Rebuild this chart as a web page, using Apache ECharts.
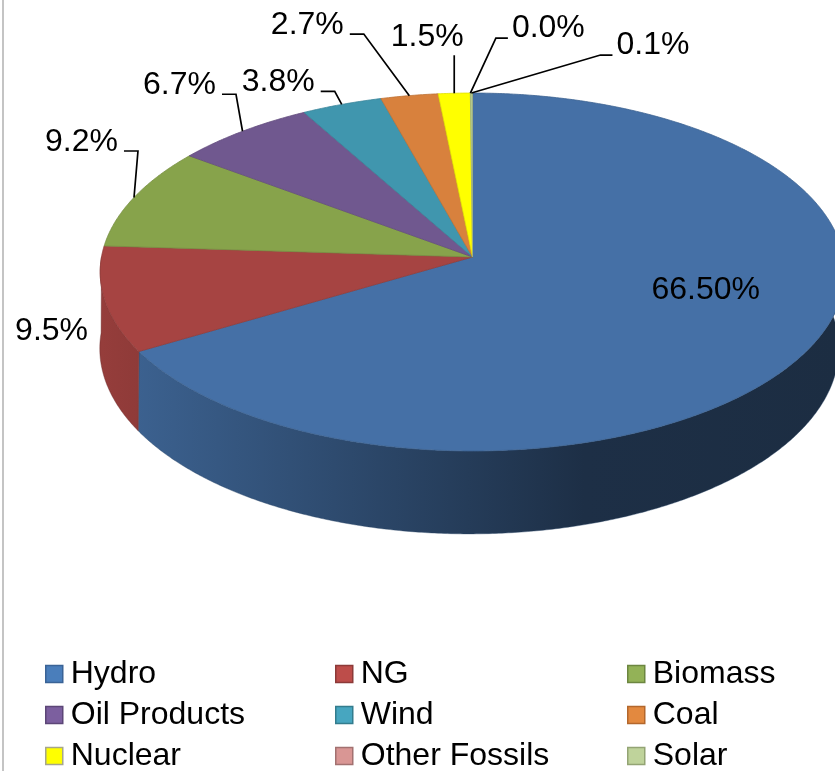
<!DOCTYPE html>
<html>
<head>
<meta charset="utf-8">
<script src="https://cdn.jsdelivr.net/npm/echarts@6/dist/echarts.min.js"></script>
<style>
html,body{margin:0;padding:0;background:#fff;}
#chart{width:835px;height:771px;}
</style>
</head>
<body>
<div id="chart"></div>
<script>
// ---------------- data ----------------
const categories = ['Hydro', 'NG', 'Biomass', 'Oil Products', 'Wind', 'Coal', 'Nuclear', 'Other Fossils', 'Solar'];
const shares = [66.5, 9.5, 9.2, 6.7, 3.8, 2.7, 1.5, 0.0, 0.1];
const shareLabels = ['66.50%', '9.5%', '9.2%', '6.7%', '3.8%', '2.7%', '1.5%', '0.0%', '0.1%'];

// ---------------- styles ----------------
const FONT = '"Liberation Sans", Arial, sans-serif';
const FONT_SIZE = 32;
const topColors = ['#4570a6', '#a64442', '#87a34b', '#70588f', '#4096ae', '#d8813d', '#ffff00', '#c98987', '#b3c88e'];
const legendColors = ['#4a7ebb', '#bd4d4a', '#93b257', '#7c5f9f', '#47a6c0', '#e3893f', '#ffff00', '#d99694', '#bfd39b'];
const legendBorders = ['#3a6396', '#8c3a38', '#6c8640', '#5c4677', '#337c8d', '#b3672c', '#a6a68c', '#a27170', '#93a474'];

// projection of the tilted disc (perspective)
const CX = 472.5, CY = 257, RX = 371, RY = 177.7, PERSP = 0.0838, DEPTH = 76, BOT_SHIFT = 3.2, BOT_SCALE = 0.9925;

// label placement: text centre offset from the slice's rim point, leader type
const labelLayout = [
  { dx: -103, dy: -59, leader: 'none' },
  { dx: -53, dy: 32, leader: 'none' },
  { dx: -52.5, dy: -55.5, leader: 'left' },
  { dx: -63, dy: -46, leader: 'left' },
  { dx: -63.5, dy: -22, leader: 'left' },
  { dx: -102, dy: -70.6, leader: 'left' },
  { dx: -27, dy: -56, leader: 'below' },
  { dx: 78, dy: -65, leader: 'right' },
  { dx: 181.5, dy: -48, leader: 'right' }
];

function proj(theta, r) {
  const u = Math.cos(theta) * r, v = Math.sin(theta) * r, w = 1 + PERSP * v;
  return { x: CX + RX * u / w, y: CY - RY * v / w, w: w };
}
function bottomPt(theta) {
  const p = proj(theta, 1);
  return [CX - BOT_SHIFT + (p.x - CX) * BOT_SCALE, p.y + DEPTH / p.w];
}
function shade(hex, f) {
  const n = parseInt(hex.slice(1), 16);
  let r = (n >> 16) & 255, g = (n >> 8) & 255, b = n & 255;
  const c = (x) => Math.max(0, Math.min(255, Math.round(x * f)));
  return 'rgb(' + c(r) + ',' + c(g) + ',' + c(b) + ')';
}
const measureCtx = document.createElement('canvas').getContext('2d');
function textWidth(t) {
  measureCtx.font = FONT_SIZE + 'px ' + FONT;
  return measureCtx.measureText(t).width;
}
function arcPts(a, b) {
  const n = Math.max(2, Math.ceil(Math.abs(b - a) / 0.008));
  const pts = [];
  for (let k = 0; k <= n; k++) {
    const t = a + (b - a) * k / n;
    const p = proj(t, 1);
    pts.push([p.x, p.y]);
  }
  return pts;
}

function makeRender(i) {
  return function (params, api) {
    const val = api.value(0);
    const total = shares.reduce((s, v) => s + v, 0);
    let start = 0;
    for (let k = 0; k < i; k++) start += shares[k];
    const a0 = Math.PI / 2 - 2 * Math.PI * start / total;
    const a1 = Math.PI / 2 - 2 * Math.PI * (start + val) / total;
    const col = topColors[i];
    const children = [];

    // outer wall on the front half
    const fronts = [[-Math.PI, 0.1], [-3 * Math.PI, -2 * Math.PI + 0.1]];
    if (val > 0) {
      fronts.forEach(function (fr) {
        const lo = Math.max(a1, fr[0]), hi = Math.min(a0, fr[1]);
        if (hi > lo) {
          const topEdge = arcPts(hi, lo);
          const n = topEdge.length - 1;
          const bot = [];
          for (let k = 0; k <= n; k++) {
            const t = lo + (hi - lo) * k / n;
            bot.push(bottomPt(t));
          }
          children.push({
            type: 'polygon', z2: 1,
            shape: { points: topEdge.concat(bot) },
            style: {
              fill: {
                type: 'linear', x: CX - RX, y: 0, x2: CX + RX, y2: 0, global: true,
                colorStops: [
                  { offset: 0, color: shade(col, 0.9) },
                  { offset: 0.65, color: shade(col, 0.42) },
                  { offset: 1, color: shade(col, 0.4) }
                ]
              },
              stroke: shade(col, 0.6), lineWidth: 0.4
            }
          });
        }
      });
      // top face
      const pts = [[CX, CY]].concat(arcPts(a0, a1));
      children.push({
        type: 'polygon', z2: 10,
        shape: { points: pts },
        style: { fill: col, stroke: shade(col, 0.88), lineWidth: 0.8, lineJoin: 'round' }
      });
    }

    // label
    const mid = (a0 + a1) / 2;
    const rim = proj(mid, 1);
    const L = labelLayout[i];
    const tx = rim.x + L.dx, ty = rim.y + L.dy;
    const tw = textWidth(shareLabels[i]);
    children.push({
      type: 'text', z2: 20, x: tx, y: ty,
      style: {
        text: shareLabels[i], fill: '#000', fontSize: FONT_SIZE, fontFamily: FONT,
        align: 'center', verticalAlign: 'middle'
      }
    });
    let leader = null;
    if (L.leader === 'left') {
      const r = tx + tw / 2;
      leader = [[rim.x, rim.y], [r + 20, ty + 9], [r + 6, ty + 9]];
    } else if (L.leader === 'right') {
      const l = tx - tw / 2;
      leader = [[rim.x, rim.y], [l - 16, ty + 10], [l - 4, ty + 10]];
    } else if (L.leader === 'below') {
      leader = [[rim.x, rim.y], [rim.x, ty + 18]];
    }
    if (leader) {
      children.push({
        type: 'polyline', z2: 19,
        shape: { points: leader },
        style: { stroke: '#000', lineWidth: 1.7, fill: null }
      });
    }
    return { type: 'group', children: children };
  };
}

function legendColumn(idxs, left) {
  return {
    orient: 'vertical', left: left, top: 653.5, height: 200, padding: 0, itemGap: 0,
    itemWidth: 17, itemHeight: 17, icon: 'rect', selectedMode: false,
    textStyle: { fontSize: FONT_SIZE, fontFamily: FONT, color: '#000', lineHeight: 41, padding: [0, 0, 0, 3] },
    data: idxs.map(function (i) {
      return { name: categories[i], itemStyle: { color: legendColors[i], borderColor: legendBorders[i], borderWidth: 1.5 } };
    })
  };
}

const chart = echarts.init(document.getElementById('chart'), null, { renderer: 'canvas' });
chart.setOption({
  backgroundColor: '#ffffff',
  animation: false,
  graphic: [{
    type: 'rect', left: 2, top: 0, silent: true,
    shape: { width: 2, height: 771 },
    style: { fill: '#c4c4c4' }
  }],
  legend: [legendColumn([0, 3, 6], 45), legendColumn([1, 4, 7], 335), legendColumn([2, 5, 8], 627)],
  series: categories.map(function (name, i) {
    return {
      type: 'custom', name: name, coordinateSystem: 'none', silent: true,
      itemStyle: { color: legendColors[i] },
      data: [[shares[i]]],
      renderItem: makeRender(i)
    };
  })
});
</script>
</body>
</html>
